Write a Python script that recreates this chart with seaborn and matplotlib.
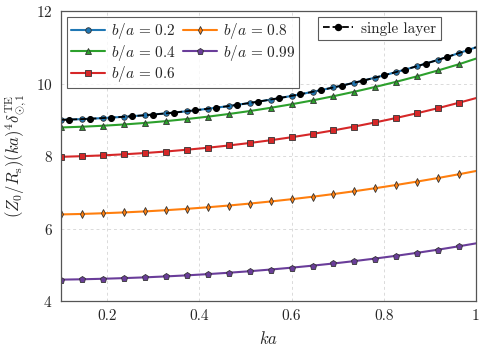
import matplotlib
matplotlib.use("Agg")
import matplotlib.pyplot as plt
import seaborn as sns
from matplotlib.lines import Line2D

# --- data ---
ka = [0.1, 0.1455, 0.1909, 0.2364, 0.2818, 0.3273, 0.3727, 0.4182, 0.4636, 0.5091,
      0.5545, 0.6, 0.6455, 0.6909, 0.7364, 0.7818, 0.8273, 0.8727, 0.9182, 0.9636, 1.0]

ba_02 = [9.000, 9.020, 9.048, 9.084, 9.127, 9.178, 9.237, 9.305, 9.380, 9.465,
         9.558, 9.660, 9.772, 9.893, 10.025, 10.166, 10.319, 10.482, 10.657, 10.843, 11.002]
ba_04 = [8.790, 8.810, 8.837, 8.872, 8.914, 8.964, 9.022, 9.087, 9.161, 9.242,
         9.332, 9.430, 9.536, 9.652, 9.776, 9.909, 10.051, 10.203, 10.365, 10.537, 10.690]
ba_06 = [7.980, 7.997, 8.019, 8.049, 8.084, 8.126, 8.175, 8.230, 8.292, 8.361,
         8.437, 8.520, 8.611, 8.709, 8.815, 8.930, 9.053, 9.184, 9.324, 9.474, 9.600]
ba_08 = [6.390, 6.403, 6.422, 6.445, 6.473, 6.506, 6.544, 6.587, 6.635, 6.689,
         6.747, 6.810, 6.878, 6.952, 7.030, 7.114, 7.203, 7.297, 7.396, 7.500, 7.588]
ba_099 = [4.590, 4.600, 4.614, 4.632, 4.653, 4.679, 4.708, 4.742, 4.780, 4.822,
          4.869, 4.920, 4.976, 5.036, 5.102, 5.173, 5.249, 5.331, 5.418, 5.512, 5.591]

ka_single = [0.1, 0.1182, 0.1636, 0.2091, 0.2545, 0.3, 0.3455, 0.3909, 0.4364, 0.4818,
             0.5273, 0.5727, 0.6182, 0.6636, 0.7091, 0.7545, 0.8, 0.8455, 0.8909,
             0.9364, 0.9818, 1.0]
single = [9.000, 9.007, 9.030, 9.061, 9.100, 9.146, 9.201, 9.263, 9.334, 9.413,
          9.501, 9.598, 9.704, 9.819, 9.944, 10.080, 10.226, 10.383, 10.550,
          10.730, 10.922, 11.002]

series = [
    (ba_02, r"$b/a\,=\,0.2$", "#1f77b4", "o", 4.0),
    (ba_04, r"$b/a\,=\,0.4$", "#2ca02c", "^", 4.0),
    (ba_06, r"$b/a\,=\,0.6$", "#d62728", "s", 4.0),
    (ba_08, r"$b/a\,=\,0.8$", "#ff7f0e", "d", 4.0),
    (ba_099, r"$b/a\,=\,0.99$", "#6a3d9a", "p", 5.0),
]

x_ticks = [0.2, 0.4, 0.6, 0.8, 1.0]
x_ticklabels = ["0.2", "0.4", "0.6", "0.8", "1"]
y_ticks = [4, 6, 8, 10, 12]

# --- style ---
sns.set_style("white")
plt.rcParams["font.family"] = ["cmr10", "DejaVu Serif"]
plt.rcParams["mathtext.fontset"] = "cm"
plt.rcParams["axes.formatter.use_mathtext"] = True

fig = plt.figure(figsize=(4.86, 3.48), dpi=100)
ax = fig.add_axes([0.1255, 0.135, 0.8539, 0.833])

handles = []
for vals, lab, col, mk, ms in series:
    sns.lineplot(x=ka, y=vals, ax=ax, color=col, lw=1.5, marker=mk, ms=ms,
                 markevery=slice(0, 20), markeredgecolor="#333333",
                 markeredgewidth=0.6, sort=False, legend=False)
    handles.append(Line2D([], [], color=col, lw=1.5, marker=mk, ms=ms,
                          markeredgecolor="#333333", markeredgewidth=0.6, label=lab))

sns.lineplot(x=ka_single, y=single, ax=ax, color="black", lw=1.3, ls="--",
             marker="o", ms=4.3, markevery=slice(1, 21), markeredgecolor="black",
             sort=False, legend=False)
h_single = Line2D([], [], color="black", lw=1.3, ls="--", marker="o", ms=4.3,
                  label="single layer")

ax.set_xlim(0.1, 1.0)
ax.set_ylim(4, 12)
ax.set_xticks(x_ticks)
ax.set_xticklabels(x_ticklabels)
ax.set_yticks(y_ticks)
ax.tick_params(labelsize=11, direction="in", length=3, color="#666666", pad=6)
ax.grid(True, ls=(0, (3, 3)), color="#dadada", lw=0.7)
for s in ax.spines.values():
    s.set_color("#555555")
    s.set_linewidth(0.9)

ax.set_xlabel(r"$ka$", fontsize=12, labelpad=5)
ax.set_ylabel(r"$(Z_0/R_\mathrm{s})(ka)^4\delta_{\odot,1}^{\mathrm{TE}}$", fontsize=12, labelpad=6)

leg1 = ax.legend(handles=handles, loc="upper left", ncol=2, fontsize=11,
                 frameon=True, fancybox=False, edgecolor="#333333",
                 borderaxespad=0.4, handlelength=2.2, columnspacing=0.5,
                 labelspacing=0.1, handletextpad=0.4, borderpad=0.25)
leg1.get_frame().set_linewidth(0.8)
ax.add_artist(leg1)
leg2 = ax.legend(handles=[h_single], loc="upper right", fontsize=11,
                 frameon=True, fancybox=False, edgecolor="#333333",
                 borderaxespad=0.4, handlelength=2.0, handletextpad=0.5,
                 borderpad=0.3, bbox_to_anchor=(0.93, 1.0))
leg2.get_frame().set_linewidth(0.8)

fig.savefig("out.png", dpi=100)
